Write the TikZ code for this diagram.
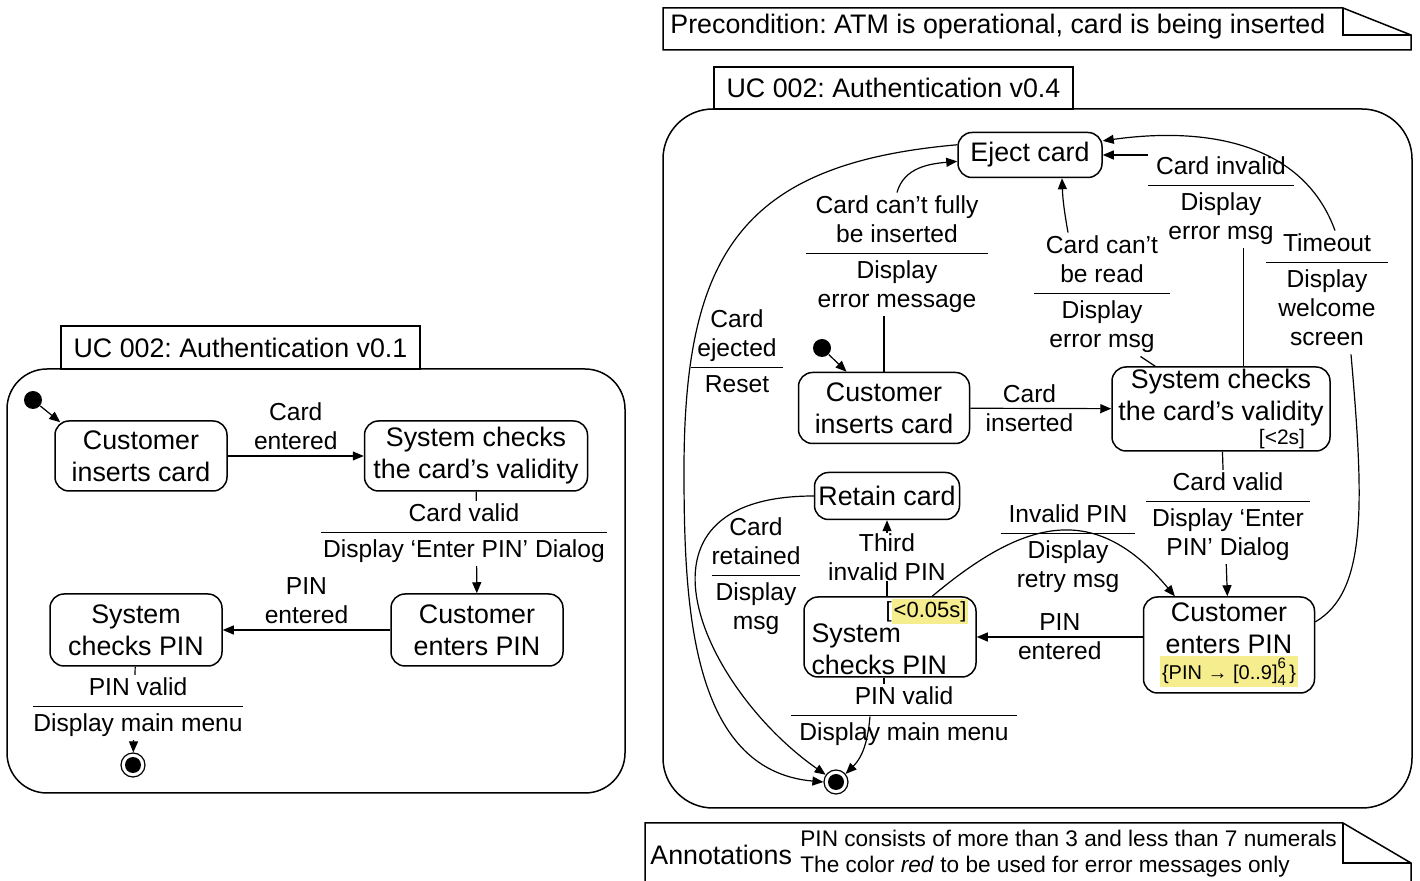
\documentclass[tikz,border=0pt]{standalone}
\usepackage{fontspec}
\setmainfont{Liberation Sans}
\usepackage{tikz}
\usetikzlibrary{positioning, arrows.meta, backgrounds}

\definecolor{hlyellow}{HTML}{F6EE8E}
\setlength{\arrayrulewidth}{0.7pt}
\setlength{\fboxsep}{1pt}
\frenchspacing
\newcommand{\statefont}{\fontsize{13.4pt}{16pt}\selectfont}
\newcommand{\lblfont}{\fontsize{12.3pt}{14.5pt}\selectfont}
\newcommand{\tagfont}{\fontsize{11pt}{13pt}\selectfont}
\newcommand{\notefont}{\fontsize{11.3pt}{13pt}\selectfont}
\newcommand{\trlabel}[3][3pt]{\begin{tabular}{@{\hspace{#1}}c@{\hspace{#1}}}#2\\[1pt]\hline\rule{0pt}{12pt}#3\end{tabular}}

\begin{document}
\begin{tikzpicture}[x=0.5pt, y=0.5pt,
  stbox/.style={draw, line width=0.75pt, rounded corners=7pt, align=center, inner sep=1pt, font=\statefont},
  lbl/.style={align=center, inner sep=0pt, font=\lblfont},
  tr/.style={-{Triangle[length=5.5pt,width=4.5pt]}, line width=0.6pt},
  startdot/.style={circle, fill=black, minimum size=9pt, inner sep=0pt},
  enddot/.style={circle, draw, line width=0.6pt, minimum size=12pt, inner sep=0pt,
    path picture={\fill (path picture bounding box.center) circle (4pt);}},
  frm/.style={line width=0.75pt}]
\useasboundingbox (0,0) rectangle (1420,-881);

% --- Left: UC 002 v0.1 ---
\draw[frm, rounded corners=20pt] (7,-369) rectangle (625,-793);
\node[draw, frm, minimum width=179.5pt, minimum height=21.5pt, inner sep=0pt, font=\statefont] (uc1) at (240.5,-347.5) {UC 002: Authentication v0.1};
% States
\node[startdot] (init1) at (33,-400) {};
\node[stbox, minimum width=86pt, minimum height=35pt] (cic1) at (141,-456) {Customer\\inserts card};
\node[stbox, minimum width=111.5pt, minimum height=35pt] (scv1) at (476,-456) {System checks\\the card’s validity};
\node[stbox, minimum width=86pt, minimum height=36pt] (cep1) at (477,-630) {Customer\\enters PIN};
\node[stbox, minimum width=86pt, minimum height=36pt] (scp1) at (136,-630) {System\\checks PIN};
\node[enddot] (fin1) at (133,-765) {};
% Guard / action labels
\node[lbl, fill=white] (cv1) at (464,-533.5) {\trlabel[1pt]{Card valid}{Display ‘Enter PIN’ Dialog}};
\node[lbl, fill=white] (pv1) at (138,-707.5) {\trlabel[0pt]{PIN valid}{Display main menu}};
% Transitions
\begin{scope}[on background layer]
\draw[tr] (init1) -- ([xshift=3pt,yshift=-1pt]cic1.north west);
\draw[tr] (cic1) -- node[lbl, above=3pt] {Card\\entered} (scv1);
\draw[tr] (scv1) -- (cep1);
\draw[tr] (cep1) -- node[lbl, above=3pt] {PIN\\entered} (scp1);
\draw[tr] (scp1) -- (fin1);
\end{scope}

% --- Right: UC 002 v0.4 ---
% Precondition note
\node[anchor=west, inner sep=0pt, font=\statefont] (pre) at (670,-27) {Precondition: ATM is operational, card is being inserted};
\draw[frm] (663,-8) -- (1343,-8) -- (1411,-35) -- (1411,-50) -- (663,-50) -- cycle;
\draw[frm] (1343,-8) -- (1343,-35) -- (1411,-35);
% Frame
\draw[frm, rounded corners=25pt] (663,-109) rectangle (1412,-808);
\node[draw, frm, minimum width=179.5pt, minimum height=21pt, inner sep=0pt, font=\statefont] (uc2) at (893.5,-88) {UC 002: Authentication v0.4};
% States
\node[startdot] (init2) at (822,-348) {};
\node[stbox, minimum width=72pt, minimum height=22.5pt] (eject) at (1030,-155) {Eject card};
\node[stbox, minimum width=85.5pt, minimum height=35.5pt] (cic2) at (884,-408) {Customer\\inserts card};
\node[stbox, minimum width=109pt, minimum height=42pt] (scv2) at (1221,-409) {System checks\\the card’s validity\\[-4pt]{\fontsize{10.5pt}{12pt}\selectfont\hspace*{61pt}[<2s]}};
\node[stbox, minimum width=72.5pt, minimum height=23.5pt] (retain) at (887,-496) {Retain card};
\node[stbox, align=left, minimum width=86pt, minimum height=40pt] (scp2) at (890,-637) {\hspace*{37pt}{\tagfont[\colorbox{hlyellow}{<0.05s]}}\\[-3.5pt]System\\checks PIN};
\node[stbox, minimum width=85.5pt, minimum height=48pt] (cep2) at (1229,-645) {Customer\\enters PIN\\[-3pt]{\fontsize{10pt}{12pt}\selectfont\colorbox{hlyellow}{\{PIN → [0..9]\raisebox{-3pt}{\fontsize{7.5pt}{6.5pt}\selectfont\shortstack[l]{6\\4}}\,\}}}};
\node[enddot] (fin2) at (836,-782) {};
\coordinate (ejw) at (684,-470);
% Guard / action labels
\node[lbl] (full) at (897,-254.5) {\trlabel[5pt]{Card can’t fully\\be inserted}{Display\\error message}};
\node[lbl] (ejected) at (737,-354) {\trlabel{Card\\ejected}{Reset}};
\node[lbl] (read) at (1102,-294.5) {\trlabel[6pt]{Card can’t\\be read}{Display\\error msg}};
\node[lbl] (invalid) at (1221,-201) {\trlabel[4pt]{Card invalid}{Display\\error msg}};
\node[lbl] (timeout) at (1327,-292.5) {\trlabel[6pt]{Timeout}{Display\\welcome\\screen}};
\node[lbl, fill=white] (cvalid2) at (1228,-517) {\trlabel{Card valid}{Display ‘Enter\\PIN’ Dialog}};
\node[lbl] (invpin) at (1068,-549) {\trlabel[4pt]{Invalid PIN}{Display\\retry msg}};
\node[lbl] (retained) at (756,-576.5) {\trlabel[0pt]{Card\\retained}{Display\\msg}};
\node[lbl] (pinv2) at (904,-716.5) {\trlabel[4pt]{PIN valid}{Display main menu}};
\node[lbl, fill=white] (third) at (887,-557) {Third\\invalid PIN};
% Transitions
\begin{scope}[on background layer]
\draw[tr] (init2) -- (cic2);
\draw[tr] (cic2) -- node[lbl, pos=0.42] {Card\\inserted} (scv2);
\draw[line width=0.6pt] (cic2.north) -- (cic2.north |- full.south);
\draw[tr] (full.north) to[out=75,in=185] (eject.185);
\draw[tr] (eject.172) to[out=185,in=90,looseness=1.3] (ejw) to[out=270,in=175] (fin2.180);
\draw[line width=0.6pt] (scv2.147) -- ([xshift=-15pt]read.south east);
\draw[tr] ([xshift=-17pt]read.north) to[out=100,in=272] (eject.-36);
\draw[line width=0.6pt] (scv2.62) -- (scv2.62 |- invalid.south);
\draw[tr] (invalid.west |- eject.east) -- (eject.east);
\draw[line width=0.6pt] (cep2.15) .. controls +(30:30pt) and +(275:75pt) .. ([xshift=12pt]timeout.south);
\draw[tr] ([xshift=4pt]timeout.north) to[out=110,in=8] (eject.11);
\draw[tr] (scv2) -- (cep2);
\draw[tr] (cep2.west |- scp2.east) -- node[lbl] {PIN\\entered} (scp2.east);
\draw[tr] (retain.south |- scp2.north) -- (retain.south);
\draw[tr] (scp2.44) to[out=40,in=130,looseness=1.3] (cep2.138);
\draw[line width=0.6pt] ([xshift=-3pt]scp2.south) -- ([xshift=-3pt]scp2.south |- pinv2.north);
\draw[tr] ([xshift=-17pt]pinv2.center) to[out=265,in=45] (fin2.40);
\draw[tr] (retain.west) .. controls +(180:100pt) and +(145:75pt) .. (fin2.145);
\end{scope}

% --- Annotations note ---
\node[anchor=west, inner sep=0pt, font=\statefont] (ann) at (650,-855) {Annotations};
\node[anchor=west, align=left, inner sep=0pt, font=\notefont] (anntxt) at (800,-854) {PIN consists of more than 3 and less than 7 numerals\\The color \textit{red} to be used for error messages only};
\draw[frm] (645,-895) -- (645,-823) -- (1343,-823) -- (1411,-863) -- (1411,-895);
\draw[frm] (1343,-823) -- (1343,-863) -- (1411,-863);
\end{tikzpicture}
\end{document}
